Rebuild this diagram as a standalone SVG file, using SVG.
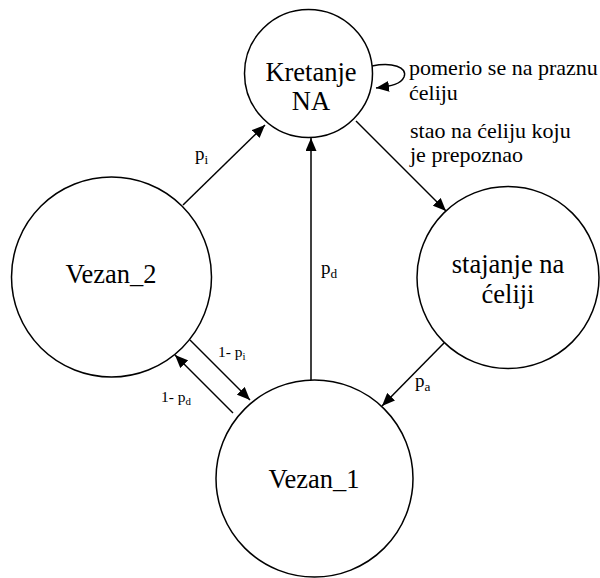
<svg xmlns="http://www.w3.org/2000/svg" width="600" height="578" viewBox="0 0 600 578" font-family="Liberation Serif, DejaVu Serif, serif">
<style>
.node{fill:#fff;stroke:#000;stroke-width:1.5}
.nl{font-size:26.5px;fill:#000;text-anchor:middle}
.edge{fill:none;stroke:#000;stroke-width:1.5}
.el{font-size:22px;fill:#000}
.pl{font-size:19px;fill:#000}
.ql{font-size:15.5px;fill:#000}
.sub{font-size:70%}
</style>
<defs>
<marker id="arr" markerWidth="13" markerHeight="11" refX="13" refY="5.5" orient="auto" markerUnits="userSpaceOnUse">
<path d="M0,0 L13,5.5 L0,11 z" fill="#000"/>
</marker>
</defs>
<rect width="600" height="578" fill="#fff"/>
<g id="connectors">
<path class="edge" d="M183,205 L265,125" marker-end="url(#arr)"/>
<path class="edge" d="M311,380 L311,138" marker-end="url(#arr)"/>
<path class="edge" d="M356,121 L446,211" marker-end="url(#arr)"/>
<path class="edge" d="M444,343 L382,406" marker-end="url(#arr)"/>
<path class="edge" d="M190,340 L250,400" marker-end="url(#arr)"/>
<path class="edge" d="M233,413 L175,355" marker-end="url(#arr)"/>
<path class="edge" d="M372,66 C392,62 408,67 404,77 C401,84 392,86 376,88" marker-end="url(#arr)"/>
<text class="pl" x="195" y="160">p<tspan class="sub" dy="4">i</tspan></text>
<text class="pl" x="321" y="274">p<tspan class="sub" dy="4">d</tspan></text>
<text class="pl" x="415" y="387">p<tspan class="sub" dy="4">a</tspan></text>
<text class="ql" x="218" y="357">1- p<tspan class="sub" dy="3">i</tspan></text>
<text class="ql" x="161" y="402">1- p<tspan class="sub" dy="3">d</tspan></text>
<text class="el" x="409" y="75">pomerio se na praznu</text>
<text class="el" x="409" y="100">ćeliju</text>
<text class="el" x="410" y="138">stao na ćeliju koju</text>
<text class="el" x="410" y="162">je prepoznao</text>
</g>
<g id="kretanje">
<circle class="node" cx="308.5" cy="73.5" r="64"/>
<text class="nl" x="311" y="81">Kretanje</text>
<text class="nl" x="311" y="110">NA</text>
</g>
<g id="vezan2">
<circle class="node" cx="111.5" cy="277" r="100"/>
<text class="nl" x="111" y="283">Vezan_2</text>
</g>
<g id="stajanje">
<circle class="node" cx="508" cy="277.5" r="91"/>
<text class="nl" x="508" y="273">stajanje na</text>
<text class="nl" x="508" y="303">ćeliji</text>
</g>
<g id="vezan1">
<circle class="node" cx="314.5" cy="478.5" r="98.5"/>
<text class="nl" x="314" y="488">Vezan_1</text>
</g>
</svg>
